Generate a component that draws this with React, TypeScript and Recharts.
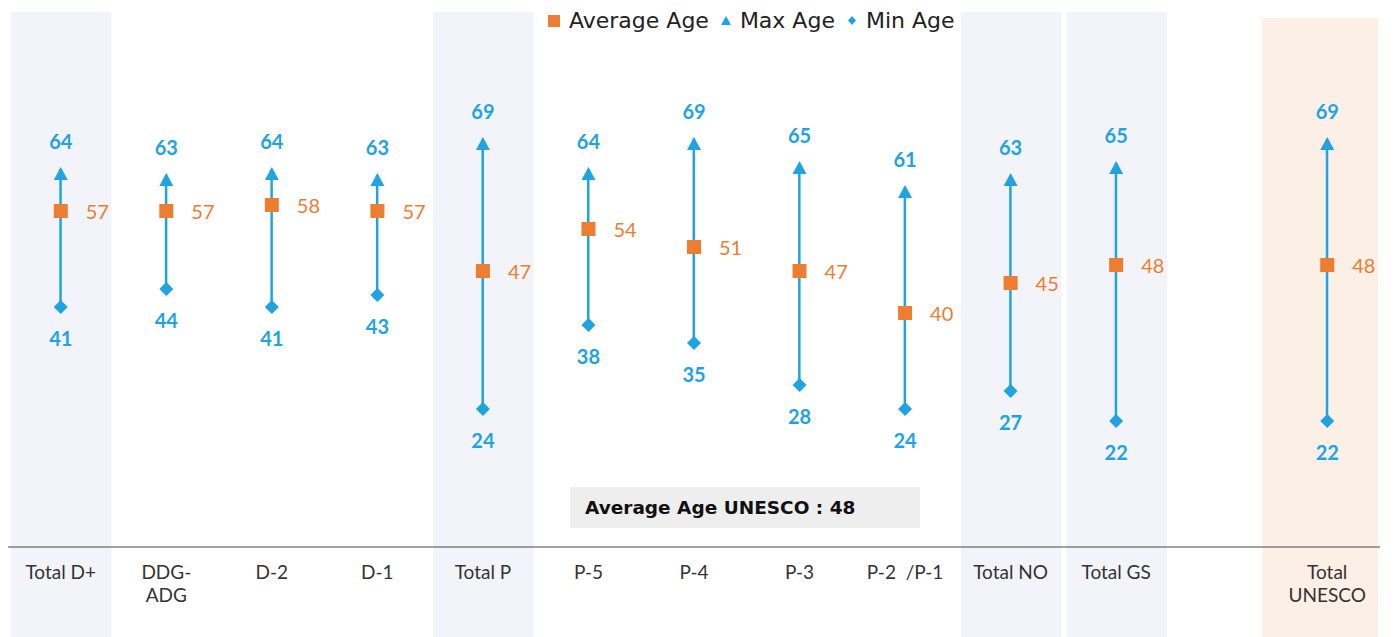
import React from 'react';
import { ComposedChart, Bar, Line, XAxis, YAxis, ReferenceArea, LabelList } from 'recharts';

const categories = ['Total D+', 'DDG-\nADG', 'D-2', 'D-1', 'Total P', 'P-5', 'P-4', 'P-3', 'P-2\u00A0 /P-1', 'Total NO', 'Total GS', '', 'Total\nUNESCO'];
const maxAge = [64, 63, 64, 63, 69, 64, 69, 65, 61, 63, 65, null, 69];
const avgAge = [57, 57, 58, 57, 47, 54, 51, 47, 40, 45, 48, null, 48];
const minAge = [41, 44, 41, 43, 24, 38, 35, 28, 24, 27, 22, null, 22];
const blueBands = ['Total D+', 'Total P', 'Total NO', 'Total GS'];
const peachBands = ['Total\nUNESCO'];
const legendItems = ['Average Age', 'Max Age', 'Min Age'];
const noteText = 'Average Age UNESCO : 48';

const BLUE = '#1FA3E3';
const ORANGE = '#ED7D31';
const CHART_W = 1379;
const CHART_H = 629;
const FONT = 'Lato, "DejaVu Sans", sans-serif';

const data = categories.map((c, i) => ({
  cat: c,
  max: maxAge[i],
  avg: avgAge[i],
  min: minAge[i],
  range: maxAge[i] == null ? null : [minAge[i], maxAge[i]],
}));

const BandShape = (fill: string, dx0: number, dx1: number, dy: number) => (p: any) => {
  if (p.x == null || p.y == null) return null;
  return <rect x={p.x + dx0} y={p.y - 1 + dy} width={Math.max(0, p.width - dx0 + dx1)} height={CHART_H - p.y + 1 - dy} fill={fill} />;
};

const RangeShape = (p: any) => {
  if (p.x == null || p.height == null || !p.payload || p.payload.range == null) return null;
  const cx = p.x + p.width / 2;
  const y1 = Math.min(p.y, p.y + p.height);
  const y2 = Math.max(p.y, p.y + p.height);
  return <line x1={cx} x2={cx} y1={y1} y2={y2} stroke={BLUE} strokeWidth={2.5} />;
};

const SquareDot = (p: any) => {
  if (p.value == null || p.cy == null) return null;
  return <rect key={p.index} x={p.cx - 7} y={p.cy - 7} width={14} height={14} fill={ORANGE} />;
};
const TriangleDot = (p: any) => {
  if (p.value == null || p.cy == null) return null;
  const t = p.cy - 2;
  return <polygon key={p.index} points={`${p.cx},${t} ${p.cx - 7},${t + 13} ${p.cx + 7},${t + 13}`} fill={BLUE} />;
};
const DiamondDot = (p: any) => {
  if (p.value == null || p.cy == null) return null;
  const { cx, cy } = p;
  return <polygon key={p.index} points={`${cx},${cy - 7} ${cx + 7},${cy} ${cx},${cy + 7} ${cx - 7},${cy}`} fill={BLUE} />;
};

const MaxLabel = (p: any) => {
  if (p.value == null) return null;
  return <text x={p.x} y={p.y - 20} textAnchor="middle" fill={BLUE} fontSize={20} fontWeight={700} fontFamily={FONT}>{p.value}</text>;
};
const MinLabel = (p: any) => {
  if (p.value == null) return null;
  return <text x={p.x} y={p.y + 39} textAnchor="middle" fill={BLUE} fontSize={20} fontWeight={700} fontFamily={FONT}>{p.value}</text>;
};
const AvgLabel = (p: any) => {
  if (p.value == null) return null;
  return <text x={p.x + 25} y={p.y + 8} textAnchor="start" fill={ORANGE} fontSize={20} fontFamily={FONT}>{p.value}</text>;
};

const Tick = (p: any) => {
  const lines = String(p.payload.value).split('\n');
  return (
    <text x={p.x} y={p.y} textAnchor="middle" fill="#333" fontSize={19} fontFamily={FONT}>
      {lines.map((l, i) => (
        <tspan key={i} x={p.x} dy={i === 0 ? 24 : 23}>{l}</tspan>
      ))}
    </text>
  );
};

const legendMarker = (i: number) => {
  if (i === 0) return <svg width={14} height={14}><rect x={0} y={1} width={12} height={12} fill={ORANGE} /></svg>;
  if (i === 1) return <svg width={12} height={12}><polygon points="5,1 0,10 10,10" fill={BLUE} /></svg>;
  return <svg width={12} height={12}><polygon points="5,1 9,5.5 5,10 1,5.5" fill={BLUE} /></svg>;
};

export default function App() {
  return (
    <div style={{ position: 'relative', width: CHART_W, height: CHART_H }}>
      <ComposedChart width={CHART_W} height={CHART_H} data={data} margin={{ top: 5, right: 7, left: 0, bottom: 0 }}>
        {blueBands.map((b) => (
          <ReferenceArea key={b} x1={b} x2={b} fill="#F2F4F9" fillOpacity={1} stroke="none" shape={BandShape('#F2F4F9', 3, -2, 0)} />
        ))}
        {peachBands.map((b) => (
          <ReferenceArea key={b} x1={b} x2={b} fill="#FBEFE6" fillOpacity={1} stroke="none" shape={BandShape('#FBEFE6', -12, -2, 6)} />
        ))}
        <XAxis dataKey="cat" height={90} interval={0} tickLine={false} axisLine={{ stroke: '#808080', strokeWidth: 1.5 }} tick={<Tick />} />
        <YAxis hide type="number" domain={[1, 90]} allowDataOverflow />
        <Bar dataKey="range" isAnimationActive={false} shape={RangeShape} />
        <Line dataKey="min" stroke="none" isAnimationActive={false} dot={DiamondDot} activeDot={false}>
          <LabelList dataKey="min" content={MinLabel} />
        </Line>
        <Line dataKey="max" stroke="none" isAnimationActive={false} dot={TriangleDot} activeDot={false}>
          <LabelList dataKey="max" content={MaxLabel} />
        </Line>
        <Line dataKey="avg" stroke="none" isAnimationActive={false} dot={SquareDot} activeDot={false}>
          <LabelList dataKey="avg" content={AvgLabel} />
        </Line>
      </ComposedChart>
      <div style={{ position: 'absolute', left: 540, top: 0, display: 'flex', alignItems: 'center', fontFamily: '"DejaVu Sans", sans-serif', fontSize: 22, color: '#222', background: '#fff', paddingRight: 4 }}>
        {legendItems.map((t, i) => (
          <div key={t} style={{ display: 'flex', alignItems: 'center', marginRight: i < 2 ? 12 : 0 }}>
            <span style={{ marginRight: 7, display: 'flex', alignItems: 'center' }}>{legendMarker(i)}</span>
            <span>{t}</span>
          </div>
        ))}
      </div>
      <div style={{ position: 'absolute', left: 562, top: 479, width: 350, height: 41, background: '#EEEEEE', display: 'flex', alignItems: 'center', boxSizing: 'border-box', paddingLeft: 15, fontFamily: '"DejaVu Sans", sans-serif', fontWeight: 700, fontSize: 18.5, color: '#111' }}>
        {noteText}
      </div>
    </div>
  );
}
